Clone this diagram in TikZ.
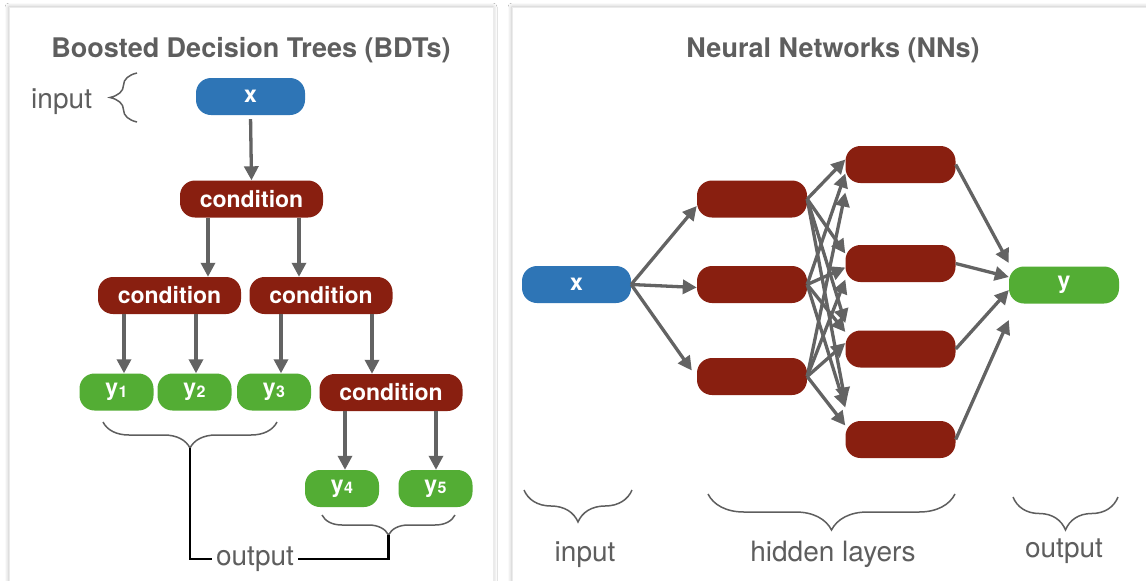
\documentclass[tikz,border=0pt]{standalone}
\usepackage{fontspec}
\setmainfont{TeX Gyre Heros}
\usetikzlibrary{arrows.meta,decorations.pathreplacing,shadows.blur}

\definecolor{inblue}{RGB}{46,117,182}
\definecolor{condred}{RGB}{137,31,16}
\definecolor{outgreen}{RGB}{83,173,52}
\definecolor{arrowgray}{RGB}{99,99,99}
\definecolor{textgray}{RGB}{94,94,94}

\newcommand{\ysub}[1]{y\kern0.5pt\raisebox{-1.5pt}{\fontsize{16}{16}\selectfont #1}}

\begin{document}
\begin{tikzpicture}[x=1pt,y=-1pt]

\tikzset{
    box/.style={rounded corners=15pt, inner sep=0pt, minimum height=37pt, text=white,
        font=\fontsize{23}{23}\selectfont\bfseries},
    inbox/.style={box, fill=inblue, minimum width=109pt},
    cond/.style={box, fill=condred, minimum width=143pt},
    hid/.style={box, fill=condred, minimum width=110pt},
    outbox/.style={box, fill=outgreen, minimum width=74pt},
    arr/.style={draw=arrowgray, line width=3.3pt, -{Triangle[length=14pt,width=14pt]}},
    curly/.style={draw=textgray, line width=1.5pt, decorate, decoration={brace,amplitude=#1}},
    lbl/.style={text=textgray, inner sep=4pt, font=\fontsize{28}{28}\selectfont},
    head/.style={text=textgray, anchor=base, font=\fontsize{27}{27}\selectfont\bfseries},
    panel/.style={fill=white, draw=black!8, line width=0.6pt,
        blur shadow={shadow xshift=0pt, shadow yshift=0pt, shadow blur radius=4pt, shadow opacity=30}},
}

\useasboundingbox (0,0) rectangle (1146,581);

%% Panels
\fill[white] (0,0) rectangle (1146,581);
\path[panel] (9,7) rectangle (493,610);
\path[panel] (512,7) rectangle (1170,610);

%% BDT panel
\node[head] (bdttitle) at (251,57) {Boosted Decision Trees (BDTs)};

\node[inbox] (xl) at (250.5,96.5) {x};
\node[lbl, anchor=base west] (inl) at (27,108) {input};
\draw[curly=27] (137,122) -- (137,73);

\node[cond] (c1) at (251.5,199) {condition};
\node[cond] (c2) at (169.5,295.5) {condition};
\node[cond] (c3) at (321,295.5) {condition};
\node[cond] (c4) at (391,392.5) {condition};

\node[outbox] (y1) at (116.5,392) {\ysub{1}};
\node[outbox] (y2) at (194.5,392) {\ysub{2}};
\node[outbox] (y3) at (274,392) {\ysub{3}};
\node[outbox] (y4) at (342,488.5) {\ysub{4}};
\node[outbox] (y5) at (435.5,488.5) {\ysub{5}};

\draw[arr, shorten <=4pt] (xl.south) -- (c1.north);
\draw[arr] ([xshift=-43.5pt]c1.south) -- ([xshift=-43.5pt]c1.south |- c2.north);
\draw[arr] ([xshift=47.5pt]c1.south) -- ([xshift=47.5pt]c1.south |- c3.north);
\draw[arr] ([xshift=-45.5pt]c2.south) -- ([xshift=-45.5pt]c2.south |- y1.north);
\draw[arr] ([xshift=26.5pt]c2.south) -- ([xshift=26.5pt]c2.south |- y2.north);
\draw[arr] ([xshift=-40pt]c3.south) -- ([xshift=-40pt]c3.south |- y3.north);
\draw[arr] ([xshift=51pt]c3.south) -- ([xshift=51pt]c3.south |- c4.north);
\draw[arr] ([xshift=-46pt]c4.south) -- ([xshift=-46pt]c4.south |- y4.north);
\draw[arr] ([xshift=45pt]c4.south) -- ([xshift=45pt]c4.south |- y5.north);

% leaves grouped into the output
\draw[curly=26] (277,422) -- (103,422);
\draw[curly=20] (455,515) -- (322,515);
\coordinate (tip1) at (190,448);
\coordinate (tip2) at (388.5,535);
\node[lbl, anchor=base] (outl) at (255,565) {output};
\draw[black, line width=2.4pt] (tip1) |- (outl.west);
\draw[black, line width=2.4pt] (outl.east) -| (tip2);

%% NN panel
\node[head] (nntitle) at (833,57) {Neural Networks (NNs)};

\node[inbox] (xr) at (576.5,284.5) {x};

\node[hid] (h11) at (752,199) {};
\node[hid] (h12) at (752,284.5) {};
\node[hid] (h13) at (752,376.5) {};

\node[hid] (h21) at (900.5,164.5) {};
\node[hid] (h22) at (900.5,263.5) {};
\node[hid] (h23) at (900.5,349) {};
\node[hid] (h24) at (900.5,439.5) {};

\node[outbox, minimum width=110pt] (yr) at (1064,285) {y};

\draw[arr] (xr.east) -- ([yshift=-7pt]h11.west);
\draw[arr] (xr.east) -- ([yshift=-3pt]h12.west);
\draw[arr] (xr.east) -- ([shift={(-5pt,6pt)}]h13.west);

\foreach \s/\t/\d in {1/1/5, 2/1/-9, 3/1/-28,
                      1/2/10, 2/2/-4, 3/2/-16,
                      1/3/26, 2/3/17, 3/3/6,
                      1/4/38, 2/4/32, 3/4/14}{
    \draw[arr] (h1\s.east) -- ([yshift=\d pt]h2\t.west);
}

\foreach \t/\d in {1/22, 2/8, 3/-5, 4/-35}{
    \draw[arr] (h2\t.east) -- ([yshift=\d pt]yr.west);
}

% layer labels
\draw[curly=32] (632,490) -- (524,490);
\draw[curly=36] (955,494) -- (708,494);
\draw[curly=33] (1118,497) -- (1013,497);
\node[lbl, anchor=base] (inr) at (585,561) {input};
\node[lbl, anchor=base] (hidl) at (833,561) {hidden layers};
\node[lbl, anchor=base] (outr) at (1064,557) {output};

\end{tikzpicture}
\end{document}
